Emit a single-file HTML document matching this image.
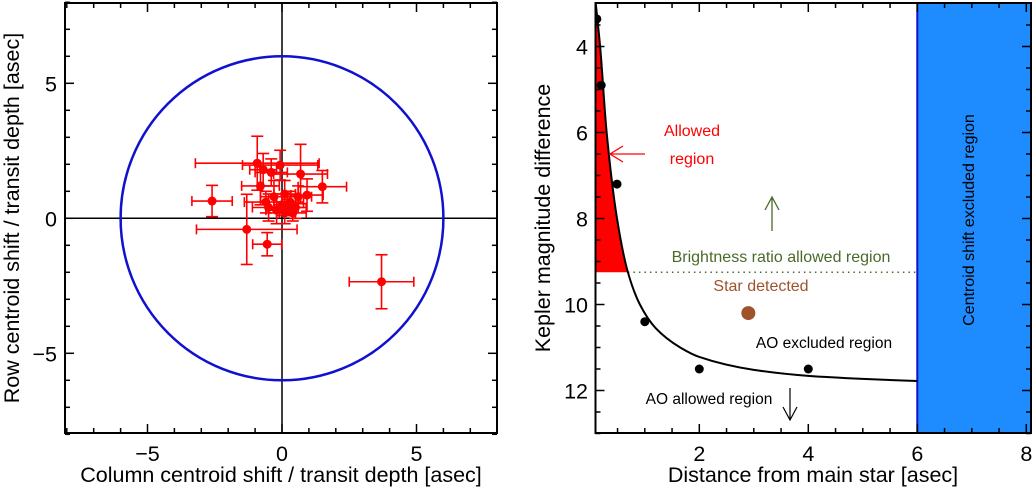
<!DOCTYPE html>
<html><head><meta charset="utf-8">
<style>
html,body{margin:0;padding:0;background:#fff;}
svg{display:block;font-family:"Liberation Sans",Arial,sans-serif;}
</style></head>
<body>
<svg id="c" width="1036" height="489" viewBox="0 0 1036 489"></svg>
<script>
// ---- Left panel data ----
const ptX    = [-2.6,-1.31,-0.55, 3.7,-0.92,-0.07, 0.69, 1.5, 0.93,-0.7,-0.4,-0.8,-0.6,-0.3, 0.1, 0.3,-0.2, 0.1, 0.4, 0.5,-0.5, 0.2, 0.6, 0.0];
const ptY    = [0.64,-0.41,-0.96,-2.35, 2.04, 1.97, 1.64,1.17, 0.86, 1.8, 1.7, 1.2, 0.6, 0.8, 0.9, 0.6, 0.3, 0.2, 0.2, 0.4, 0.4, 0.4, 0.8, 0.5];
const ptXerr = [0.75,1.87,0.54,1.2, 2.3, 1.4, 1.0, 0.9, 0.6, 0.5, 0.6, 0.7, 0.8, 0.5, 0.4, 0.5, 0.4, 0.3, 0.5, 0.4, 0.6, 0.4, 0.5, 0.3];
const ptYerr = [0.58,1.3, 0.43,1.0, 1.0, 0.55,1.1, 0.6, 0.6, 0.6, 0.5, 0.7, 0.4, 0.6, 0.5, 0.4, 0.5, 0.4, 0.3, 0.4, 0.5, 0.3, 0.4, 0.4];
const circleR = 6;
const leftTicks = [-5,0,5];
// ---- Right panel data ----
const aoX = [0.12,0.2,0.49,1.0,2.0,4.0];
const aoM = [3.36,4.9,7.2,10.4,11.5,11.5];
const curveX = [0.1,0.18,0.3,0.49,0.69,0.91,1.2,1.65,2,3,4,5,6];
const curveM = [3,4,6,8,9.25,10,10.55,11,11.22,11.52,11.66,11.73,11.78];
const brightLimit = 9.25;
const starX = [2.9], starM = [10.2];
const centroidLimit = 6;
const rightXTicks = [2,4,6,8];
const rightYTicks = [4,6,8,10,12];

const NS='http://www.w3.org/2000/svg';
const svg=document.getElementById('c');
function mk(tag,attrs,parent){const e=document.createElementNS(NS,tag);for(const k in attrs)e.setAttribute(k,attrs[k]);(parent||svg).appendChild(e);return e;}
function txt(s,attrs,parent){const e=mk('text',attrs,parent);e.textContent=s;return e;}
const FS=21.5;

// Left axes
const LX=v=>282+v*26.9, LY=v=>218.3-v*27;
const gL=mk('g',{});


const clip=mk('clipPath',{id:'clipL'});mk('rect',{x:65,y:3,width:432,height:430},clip);
const plotL=mk('g',{'clip-path':'url(#clipL)'},gL);
let e=mk('line',{x1:65,x2:497,y1:LY(0),y2:LY(0),stroke:'#000','stroke-width':1.5},plotL);

e=mk('line',{x1:LX(0),x2:LX(0),y1:3,y2:433,stroke:'#000','stroke-width':1.5},plotL);

e=mk('ellipse',{cx:LX(0),cy:LY(0),rx:circleR*26.9,ry:circleR*27,fill:'none',stroke:'#1010d0','stroke-width':2.5},plotL);

for(let i=0;i<ptX.length;i++){
  const g=mk('g',{stroke:'#f00','stroke-width':1.6,fill:'#f00'},plotL);
  
  const x=LX(ptX[i]),y=LY(ptY[i]),x1=LX(ptX[i]-ptXerr[i]),x2=LX(ptX[i]+ptXerr[i]),y1=LY(ptY[i]+ptYerr[i]),y2=LY(ptY[i]-ptYerr[i]);
  mk('line',{x1:x1,x2:x2,y1:y,y2:y},g);mk('line',{x1:x,x2:x,y1:y1,y2:y2},g);
  mk('line',{x1:x1,x2:x1,y1:y-5,y2:y+5},g);mk('line',{x1:x2,x2:x2,y1:y-5,y2:y+5},g);
  mk('line',{x1:x-6,x2:x+6,y1:y1,y2:y1},g);mk('line',{x1:x-6,x2:x+6,y1:y2,y2:y2},g);
  mk('circle',{cx:x,cy:y,r:4.5,stroke:'none'},g);
}
e=mk('rect',{x:65,y:3,width:432,height:430,fill:'none',stroke:'#000','stroke-width':2},gL);

for(let v=-8;v<=8;v++){
  const big=v%5===0, l=big?9:5;
  mk('line',{x1:LX(v),x2:LX(v),y1:433,y2:433-l,stroke:'#000','stroke-width':1.5},gL);
  mk('line',{x1:LX(v),x2:LX(v),y1:3,y2:3+l,stroke:'#000','stroke-width':1.5},gL);
  mk('line',{x1:65,x2:65+l,y1:LY(v),y2:LY(v),stroke:'#000','stroke-width':1.5},gL);
  mk('line',{x1:497,x2:497-l,y1:LY(v),y2:LY(v),stroke:'#000','stroke-width':1.5},gL);
}
leftTicks.forEach(v=>{
  const lab=v<0?'\u2212'+(-v):String(v);
  e=txt(lab,{x:LX(v),y:461,'font-size':FS,'text-anchor':'middle'},gL);
  
  e=txt(lab,{x:57,y:LY(v)+8,'font-size':FS,'text-anchor':'end'},gL);
  
});
e=txt('Column centroid shift / transit depth [asec]',{x:281,y:482,'font-size':FS,'text-anchor':'middle'},gL);

e=txt('Row centroid shift / transit depth [asec]',{x:0,y:0,'font-size':FS,'text-anchor':'middle',transform:'translate(19,218) rotate(-90)'},gL);


// Right axes
const RX=v=>590.3+v*54.5, RY=m=>46.5+(m-4)*43;
const X0=595.5,X1=1031,Y0=3,Y1=433;
const gR=mk('g',{});


const clipR=mk('clipPath',{id:'clipR'});mk('rect',{x:X0,y:Y0,width:X1-X0,height:Y1-Y0},clipR);
const plotR=mk('g',{'clip-path':'url(#clipR)'},gR);

// monotone cubic interpolation in pixel space
const P=curveX.map((x,i)=>[RX(x),RY(curveM[i])]);
const n=P.length, dk=[], sl=[];
for(let i=0;i<n-1;i++)dk.push((P[i+1][1]-P[i][1])/(P[i+1][0]-P[i][0]));
for(let i=0;i<n;i++){
  if(i===0)sl.push(dk[0]);else if(i===n-1)sl.push(dk[n-2]);
  else{ if(dk[i-1]*dk[i]<=0)sl.push(0); else { const h0=P[i][0]-P[i-1][0],h1=P[i+1][0]-P[i][0],w1=2*h1+h0,w2=h1+2*h0; sl.push((w1+w2)/(w1/dk[i-1]+w2/dk[i])); } }
}
function segPath(){let s='';for(let i=0;i<n-1;i++){const h=P[i+1][0]-P[i][0];
  s+=' C'+(P[i][0]+h/3)+','+(P[i][1]+sl[i]*h/3)+' '+(P[i+1][0]-h/3)+','+(P[i+1][1]-sl[i+1]*h/3)+' '+P[i+1][0]+','+P[i+1][1];}return s;}
const cd='M'+P[0][0]+','+P[0][1]+segPath();

const clipA=mk('clipPath',{id:'clipA'});mk('rect',{x:X0,y:Y0,width:X1-X0,height:RY(brightLimit)-Y0},clipA);
e=mk('path',{d:'M'+X0+','+Y0+' L'+P[0][0]+','+P[0][1]+segPath()+' L'+X0+','+P[n-1][1]+' Z',fill:'#f00',stroke:'none','clip-path':'url(#clipA)'},plotR);

e=mk('rect',{x:RX(centroidLimit),y:Y0,width:X1-RX(centroidLimit),height:Y1-Y0,fill:'#1e8cff'},plotR);

mk('line',{x1:RX(centroidLimit),x2:RX(centroidLimit),y1:Y0,y2:Y1,stroke:'#1010d0','stroke-width':2},plotR);
let xi=0;for(let i=1;i<curveX.length;i++){if(curveM[i-1]<=brightLimit&&curveM[i]>=brightLimit){xi=curveX[i-1]+(brightLimit-curveM[i-1])/(curveM[i]-curveM[i-1])*(curveX[i]-curveX[i-1]);}}
e=mk('line',{x1:RX(xi),x2:RX(centroidLimit),y1:RY(brightLimit),y2:RY(brightLimit),stroke:'#4a6a2a','stroke-width':1.6,'stroke-dasharray':'1.5,4'},plotR);

e=mk('path',{d:cd,fill:'none',stroke:'#000','stroke-width':2},plotR);

aoX.forEach((x,i)=>{e=mk('circle',{cx:RX(x),cy:RY(aoM[i]),r:4.5,fill:'#000'},plotR);
 });
starX.forEach((x,i)=>{e=mk('circle',{cx:RX(x),cy:RY(starM[i]),r:7,fill:'#a0522d'},plotR);
 });
e=mk('rect',{x:X0,y:Y0,width:X1-X0,height:Y1-Y0,fill:'none',stroke:'#000','stroke-width':2},gR);

for(let v=0.5;v<=8;v+=0.5){const big=v%2===0,l=big?9:5;
 mk('line',{x1:RX(v),x2:RX(v),y1:Y1,y2:Y1-l,stroke:'#000','stroke-width':1.5},gR);
 mk('line',{x1:RX(v),x2:RX(v),y1:Y0,y2:Y0+l,stroke:'#000','stroke-width':1.5},gR);}
for(let m=3.5;m<=13;m+=0.5){const big=m%2===0,l=big?9:5;
 mk('line',{x1:X0,x2:X0+l,y1:RY(m),y2:RY(m),stroke:'#000','stroke-width':1.5},gR);
 mk('line',{x1:X1,x2:X1-l,y1:RY(m),y2:RY(m),stroke:'#000','stroke-width':1.5},gR);}
rightXTicks.forEach(v=>{e=txt(String(v),{x:RX(v),y:461,'font-size':FS,'text-anchor':'middle'},gR);
 });
rightYTicks.forEach(v=>{e=txt(String(v),{x:588,y:RY(v)+8,'font-size':FS,'text-anchor':'end'},gR);
 });
e=txt('Distance from main star [asec]',{x:813,y:482,'font-size':FS,'text-anchor':'middle'},gR);

e=txt('Kepler magnitude difference',{x:0,y:0,'font-size':FS,'text-anchor':'middle',transform:'translate(550,218) rotate(-90)'},gR);

e=txt('Allowed',{x:692,y:136,'font-size':16,fill:'#f00','text-anchor':'middle'},gR);

e=txt('region',{x:692,y:164,'font-size':16,fill:'#f00','text-anchor':'middle'},gR);

e=mk('path',{d:'M645,154 L610,154 M623,146 L610,154 L623,162',fill:'none',stroke:'#f00','stroke-width':1.3},gR);

e=mk('path',{d:'M772,231 L772,197 M765,210 L772,197 L779,210',fill:'none',stroke:'#4a6a2a','stroke-width':1.3},gR);

e=txt('Brightness ratio allowed region',{x:781,y:262,'font-size':16,fill:'#4a6a2a','text-anchor':'middle'},gR);

e=txt('Star detected',{x:761,y:291,'font-size':16,fill:'#a0522d','text-anchor':'middle'},gR);

e=txt('AO excluded region',{x:824,y:348,'font-size':15.5,fill:'#000','text-anchor':'middle'},gR);

e=txt('AO allowed region',{x:709,y:404,'font-size':15.5,fill:'#000','text-anchor':'middle'},gR);

e=mk('path',{d:'M790,388 L790,420 M783,407 L790,420 L797,407',fill:'none',stroke:'#000','stroke-width':1.2},gR);

e=txt('Centroid shift excluded region',{x:0,y:0,'font-size':16,fill:'#000','text-anchor':'middle',transform:'translate(974,220) rotate(-90)'},gR);

</script>
</body></html>
